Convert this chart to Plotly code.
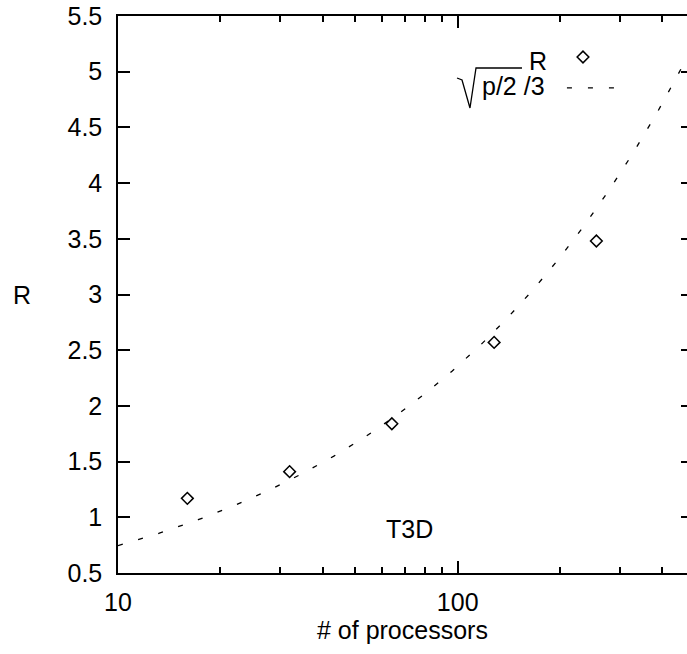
import numpy as np
import plotly.graph_objects as go

# ---- data ----
processors = [16, 32, 64, 128, 256]
r_measured = [1.17, 1.41, 1.84, 2.57, 3.48]

# model curve sqrt(p/2)/3 as labelled in the chart
model_p = np.geomspace(10, 480, 300)
model_r = np.sqrt(model_p / 2.0) / 3.0

x_major_ticks = [10, 100]
x_major_labels = ["10", "100"]
x_minor_ticks = [20, 30, 40, 50, 60, 70, 80, 90, 200, 300, 400]
y_ticks = [0.5, 1, 1.5, 2, 2.5, 3, 3.5, 4, 4.5, 5, 5.5]
y_labels = ["0.5", "1", "1.5", "2", "2.5", "3", "3.5", "4", "4.5", "5", "5.5"]

FONT = "Liberation Sans, Arial, Helvetica, sans-serif"
FS = 25
DASH = "5px,16px"

fig = go.Figure()

fig.add_trace(go.Scatter(
    x=model_p, y=model_r, mode="lines",
    line=dict(color="black", width=1.3, dash=DASH),
    showlegend=False, hoverinfo="skip"))

fig.add_trace(go.Scatter(
    x=processors, y=r_measured, mode="markers",
    marker=dict(symbol="diamond-open", size=9, color="black",
                line=dict(color="black", width=1.5)),
    showlegend=False))

# helper trace so that the right-hand tick axis is drawn
fig.add_trace(go.Scatter(x=[], y=[], yaxis="y2", showlegend=False))

# key samples (drawn on a hidden 0..1 axis pair)
fig.add_trace(go.Scatter(
    x=[0.8172], y=[0.9264], xaxis="x3", yaxis="y3", mode="markers",
    marker=dict(symbol="diamond-open", size=9, color="black",
                line=dict(color="black", width=1.5)),
    showlegend=False, hoverinfo="skip"))
fig.add_trace(go.Scatter(
    x=[0.789, 0.877], y=[0.871, 0.871], xaxis="x3", yaxis="y3", mode="lines",
    line=dict(color="black", width=1.3, dash=DASH),
    showlegend=False, hoverinfo="skip"))

axis_common = dict(showgrid=False, zeroline=False, linecolor="black",
                   linewidth=1.5, tickcolor="black", tickwidth=1.5,
                   tickfont=dict(family=FONT, size=FS, color="black"))

fig.update_layout(
    width=687, height=654,
    margin=dict(l=118, r=0, t=16, b=81, pad=0),
    paper_bgcolor="white", plot_bgcolor="white",
    font=dict(family=FONT, size=FS, color="black"),
    xaxis=dict(type="log", range=[1, 2.675], showline=True, mirror="ticks",
               ticks="inside", ticklen=12, tickmode="array",
               tickvals=x_major_ticks, ticktext=x_major_labels,
               minor=dict(tickmode="array", tickvals=x_minor_ticks, ticks="inside",
                          ticklen=6, tickwidth=1.5, tickcolor="black", showgrid=False),
               ticklabelstandoff=6, **axis_common),
    yaxis=dict(range=[0.5, 5.5], showline=True, mirror=False,
               ticks="inside", ticklen=12, tickmode="array",
               tickvals=y_ticks, ticktext=y_labels,
               ticklabelstandoff=9, **axis_common),
    yaxis2=dict(overlaying="y", side="right", anchor="x", range=[0.5, 5.5],
                showline=False, showgrid=False, zeroline=False,
                ticks="inside", ticklen=6, tickwidth=1.5, tickcolor="black",
                tickmode="array", tickvals=y_ticks, showticklabels=False),
    xaxis3=dict(overlaying="x", range=[0, 1], visible=False),
    yaxis3=dict(overlaying="y", anchor="x3", range=[0, 1], visible=False),
    showlegend=False,
)

ann_font = dict(family=FONT, size=FS, color="black")
fig.add_annotation(text="R", xref="paper", yref="paper", x=-0.1687, y=0.5,
                   showarrow=False, font=ann_font, xanchor="center", yanchor="middle")
fig.add_annotation(text="# of processors", xref="paper", yref="paper", x=0.5, y=-0.1023,
                   showarrow=False, font=ann_font, xanchor="center", yanchor="middle")
fig.add_annotation(text="T3D", xref="paper", yref="paper", x=(409 - 118) / 569,
                   y=(573 - 529) / 557, showarrow=False, font=ann_font,
                   xanchor="center", yanchor="middle")
fig.add_annotation(text="R", xref="paper", yref="paper", x=(549 - 118) / 569, y=0.919,
                   showarrow=False, font=ann_font, xanchor="right", yanchor="middle")
fig.add_annotation(text="p/2 /3", xref="paper", yref="paper", x=(480 - 118) / 569,
                   y=(573 - 86) / 557, showarrow=False, font=ann_font,
                   xanchor="left", yanchor="middle")

# radical sign for the key label
def px(xp):
    return (xp - 118) / 569

def py(yp):
    return (573 - yp) / 557

pts = [(457, 78), (462, 80), (470, 108), (476, 68), (522, 68)]
path = "M " + " L ".join(f"{px(a):.4f},{py(b):.4f}" for a, b in pts)
fig.add_shape(type="path", path=path, xref="paper", yref="paper",
              line=dict(color="black", width=1.3))

fig.write_html("out.html",
               config={"displayModeBar": False},
               post_script="document.body.style.margin='0px';"
                           "document.documentElement.style.overflow='hidden';")
